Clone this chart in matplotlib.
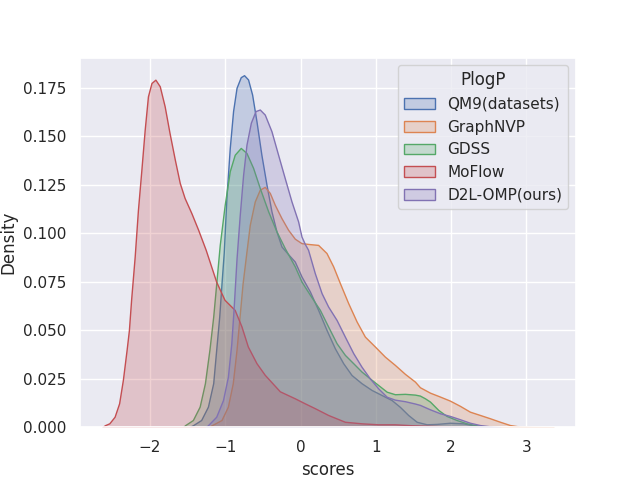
import matplotlib
matplotlib.use("Agg")
import matplotlib.pyplot as plt
import seaborn as sns

sns.set_theme()

names = ["QM9(datasets)", "GraphNVP", "GDSS", "MoFlow", "D2L-OMP(ours)"]

qm9_x = [-1.48, -1.43, -1.32, -1.23, -1.16, -1.12, -1.08, -1.05, -1.02, -0.985, -0.94, -0.896, -0.85, -0.794, -0.75,
         -0.697, -0.643, -0.585, -0.52, -0.452, -0.386, -0.32, -0.253, -0.16, -0.076, 0.013, 0.124, 0.234, 0.345,
         0.456, 0.567, 0.678, 0.81, 0.944, 1.077, 1.21, 1.32, 1.43, 1.543, 1.676, 1.81, 1.985, 2.16, 2.29, 2.45, 2.55]
qm9_y = [0.0, 0.001, 0.0037, 0.0106, 0.0227, 0.040, 0.057, 0.074, 0.090, 0.118, 0.144, 0.163, 0.175, 0.1805, 0.1815,
         0.1793, 0.1715, 0.1577, 0.1405, 0.125, 0.1113, 0.101, 0.0932, 0.089, 0.0854, 0.0777, 0.070, 0.0605, 0.0502,
         0.0407, 0.033, 0.0269, 0.0227, 0.0192, 0.0166, 0.014, 0.0105, 0.0063, 0.0028, 0.0015, 0.0017, 0.0023, 0.002,
         0.001, 0.0003, 0.0]

gnvp_x = [-1.22, -1.18, -1.05, -0.965, -0.90, -0.85, -0.81, -0.77, -0.72, -0.674, -0.608, -0.541, -0.475, -0.408,
          -0.342, -0.253, -0.165, -0.076, 0.013, 0.124, 0.234, 0.345, 0.434, 0.523, 0.633, 0.745, 0.855, 0.988, 1.12,
          1.254, 1.387, 1.52, 1.586, 1.653, 1.72, 1.852, 1.985, 2.118, 2.25, 2.384, 2.517, 2.65, 2.783, 2.916, 3.1, 3.36]
gnvp_y = [0.0, 0.001, 0.0037, 0.0106, 0.0227, 0.040, 0.057, 0.074, 0.090, 0.1044, 0.1164, 0.1225, 0.1239, 0.1208,
          0.1147, 0.1078, 0.1018, 0.0972, 0.0949, 0.0944, 0.094, 0.0898, 0.0829, 0.0743, 0.064, 0.0545, 0.0467, 0.0416,
          0.0364, 0.0321, 0.0275, 0.0235, 0.0206, 0.0192, 0.0178, 0.0158, 0.0137, 0.011, 0.008, 0.0063, 0.0046, 0.0028,
          0.0011, 0.0003, 0.0001, 0.0]

gdss_x = [-1.56, -1.535, -1.43, -1.34, -1.27, -1.21, -1.16, -1.12, -1.073, -1.007, -0.94, -0.874, -0.794, -0.718, -0.63,
          -0.541, -0.43, -0.32, -0.21, -0.076, 0.013, 0.124, 0.257, 0.367, 0.479, 0.589, 0.70, 0.81, 0.92, 1.03, 1.145,
          1.254, 1.387, 1.52, 1.586, 1.653, 1.72, 1.83, 1.94, 2.074, 2.207, 2.384, 2.55]
gdss_y = [0.0, 0.001, 0.0037, 0.0106, 0.0227, 0.040, 0.057, 0.074, 0.094, 0.1147, 0.132, 0.1405, 0.144, 0.1414, 0.1337,
          0.1233, 0.1113, 0.101, 0.0924, 0.0829, 0.0751, 0.0683, 0.0605, 0.0519, 0.0433, 0.0373, 0.033, 0.0287, 0.0252,
          0.0218, 0.0183, 0.017, 0.0172, 0.0168, 0.0163, 0.0149, 0.0132, 0.0089, 0.0058, 0.0037, 0.002, 0.0006, 0.0]

moflow_x = [-2.63, -2.60, -2.54, -2.47, -2.41, -2.36, -2.31, -2.28, -2.25, -2.203, -2.16, -2.114, -2.07, -2.027, -1.98,
            -1.928, -1.87, -1.805, -1.74, -1.67, -1.604, -1.54, -1.45, -1.36, -1.26, -1.12, -1.01, -0.875, -0.785, -0.70,
            -0.585, -0.475, -0.275, -0.076, 0.057, 0.19, 0.367, 0.589, 0.81, 1.03, 1.254, 1.476, 1.653, 2.0, 2.5]
moflow_y = [0.0, 0.001, 0.002, 0.0054, 0.0123, 0.0244, 0.040, 0.050, 0.066, 0.088, 0.112, 0.1328, 0.1534, 0.1706, 0.1775,
            0.1792, 0.1758, 0.1655, 0.1517, 0.138, 0.1259, 0.1182, 0.1104, 0.1018, 0.0915, 0.075, 0.0657, 0.0605, 0.052,
            0.0416, 0.033, 0.027, 0.0185, 0.0149, 0.0123, 0.0098, 0.0063, 0.0028, 0.002, 0.0015, 0.0015, 0.001, 0.0008,
            0.0004, 0.0]

d2l_x = [-1.26, -1.23, -1.12, -1.03, -0.965, -0.92, -0.89, -0.85, -0.807, -0.763, -0.718, -0.66, -0.598, -0.541, -0.475,
         -0.386, -0.298, -0.21, -0.12, -0.032, 0.013, 0.057, 0.1, 0.19, 0.28, 0.367, 0.479, 0.589, 0.70, 0.81, 0.92,
         1.03, 1.145, 1.254, 1.387, 1.52, 1.586, 1.72, 1.852, 1.985, 2.118, 2.25, 2.384, 2.55, 2.65]
d2l_y = [0.0, 0.001, 0.0054, 0.014, 0.026, 0.043, 0.0605, 0.087, 0.1096, 0.130, 0.1457, 0.157, 0.163, 0.1638, 0.1612,
         0.1526, 0.1405, 0.1285, 0.1164, 0.1061, 0.0983, 0.0945, 0.0915, 0.0794, 0.0691, 0.0622, 0.0553, 0.0467, 0.0382,
         0.0312, 0.0252, 0.0201, 0.0157, 0.0142, 0.0134, 0.0122, 0.0115, 0.0092, 0.0072, 0.0058, 0.0041, 0.0023, 0.0011,
         0.0003, 0.0]

series_x = [qm9_x, gnvp_x, gdss_x, moflow_x, d2l_x]
series_y = [qm9_y, gnvp_y, gdss_y, moflow_y, d2l_y]
colors = sns.color_palette()[:5]

fig, ax = plt.subplots(figsize=(6.4, 4.8), dpi=100)
for name, xs, ys, c in zip(names, series_x, series_y, colors):
    ax.fill_between(xs, 0, ys, facecolor=(*c, 0.25), edgecolor=c, linewidth=1.0, label=name)

ax.margins(x=0.05, y=0.05)
ax.set_ylim(bottom=0)
ax.set_xlabel("scores")
ax.set_ylabel("Density")
ax.legend(title="PlogP", loc="upper right")
fig.savefig("out.png", dpi=100)
